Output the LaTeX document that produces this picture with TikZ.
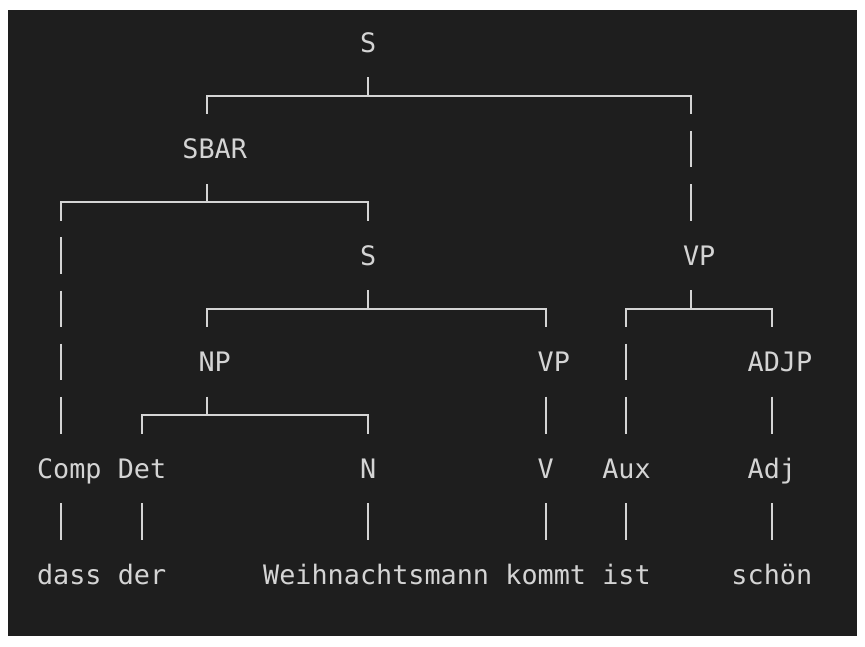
\documentclass[tikz,border=0pt]{standalone}
\usepackage{fontspec}
\setmonofont{DejaVu Sans Mono}
\usepackage{xcolor}
\usetikzlibrary{calc}

\definecolor{termbg}{HTML}{1E1E1E}
\definecolor{termfg}{HTML}{D4D4D4}

% one column = 16.15pt, one terminal line = 53.2pt
\tikzset{
  lbl/.style={font=\ttfamily\fontsize{26.8}{32}\selectfont, text=termfg,
    inner sep=0pt, text height=19.5pt, text depth=0pt, anchor=center},
  hbar/.style={draw=termfg, line width=2pt},
  vbar/.style={hbar, dash pattern=on 36.6pt off 16.6pt, dash phase=18.3pt},
}
\newcommand{\pad}{\hphantom{0}}
% parent, left child, right child
\newcommand{\fork}[3]{%
  \coordinate (#1-j) at ($(#1.center)+(0,1)$);
  \draw[hbar] ([yshift=-34.7pt]#1.center) -- (#1-j);
  \draw[hbar, line cap=rect] (#2.center |- #1-j) -- (#3.center |- #1-j);
  \draw[vbar] (#2.center |- #1-j) -- ([yshift=34.7pt]#2.center);
  \draw[vbar] (#3.center |- #1-j) -- ([yshift=34.7pt]#3.center);
}

\begin{document}
\begin{tikzpicture}
\useasboundingbox (0,0) rectangle (865pt,-647pt);
\fill[termbg] (8pt,-10pt) rectangle (857pt,-636pt);

\begin{scope}[x=16.15pt, y=-53.2pt, shift={(45.075pt,-42.8pt)}]
   \node[lbl] (S) at (20,0) {S};
   \node[lbl] (SBAR) at (10,2) {\pad SBAR};
   \node[lbl] (S2) at (20,4) {S};
   \node[lbl] (VP) at (40,4) {\pad VP};
   \node[lbl] (NP) at (10,6) {\pad NP};
   \node[lbl] (VP2) at (31,6) {\pad VP};
   \node[lbl] (ADJP) at (45,6) {\pad ADJP};
   % preterminals
   \node[lbl] (Comp) at (1,8) {\pad Comp};
   \node[lbl] (Det) at (6,8) {Det};
   \node[lbl] (N) at (20,8) {N};
   \node[lbl] (V) at (31,8) {V};
   \node[lbl] (Aux) at (36,8) {Aux};
   \node[lbl] (Adj) at (45,8) {Adj};
   % words
   \node[lbl] (dass) at (1,10) {\pad dass};
   \node[lbl] (der) at (6,10) {der};
   \node[lbl] (mann) at (20,10) {\pad Weihnachtsmann};
   \node[lbl] (kommt) at (31,10) {kommt};
   \node[lbl] (ist) at (36,10) {ist};
   \node[lbl] (schoen) at (45,10) {schön};

   \fork{S}{SBAR}{VP}
   \fork{SBAR}{Comp}{S2}
   \fork{S2}{NP}{VP2}
   \fork{VP}{Aux}{ADJP}
   \fork{NP}{Det}{N}

   \foreach \a/\b in {VP2/V, ADJP/Adj, Comp/dass, Det/der, N/mann,
                      V/kommt, Aux/ist, Adj/schoen}
     \draw[hbar] ([yshift=-34.7pt]\a.center) -- ([yshift=34.7pt]\b.center);
\end{scope}
\end{tikzpicture}
\end{document}
